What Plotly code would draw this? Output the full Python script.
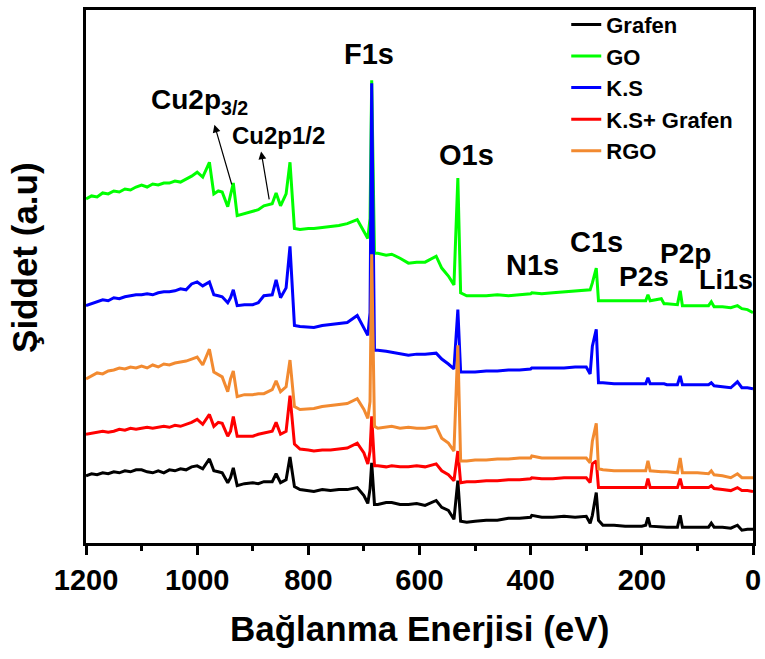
import plotly.graph_objects as go

# Binding energy keypoints (eV)
energy = [1200, 1190, 1180, 1170, 1160, 1150, 1140, 1130, 1120, 1110,
          1100, 1090, 1080, 1070, 1060, 1050, 1040, 1030, 1020, 1010,
          1000, 990, 978, 970, 962, 955, 945, 940, 935, 928,
          915, 900, 890, 880, 865, 858, 850, 840, 833, 825,
          815, 800, 790, 775, 760, 745, 730, 712, 700, 693,
          689, 686, 681, 675, 660, 650, 635, 620, 605, 590,
          570, 560, 548, 538, 531, 526, 515, 500, 480, 460,
          440, 420, 400, 398, 380, 360, 340, 320, 300, 293,
          289, 282, 278, 270, 250, 230, 200, 193, 189, 185,
          165, 160, 155, 136, 131, 127, 100, 80, 75, 70,
          55, 40, 28, 20, 10, 0]

grafen = [68, 70, 69, 71, 70, 72, 71, 73, 72, 74,
          74, 72, 71, 73, 71, 74, 73, 75, 74, 77,
          78, 75, 85, 73, 72, 71, 61, 66, 76, 58,
          60, 61, 60, 62, 62, 70, 61, 64, 87, 57,
          54, 53, 52, 54, 53, 54, 54, 56, 48, 40,
          55, 81, 39, 39, 41, 41, 39, 39, 40, 38,
          43, 36, 33, 24, 63, 22, 21, 22, 23, 23,
          25, 25, 26, 28, 26, 26, 27, 26, 27, 20,
          28, 51, 23, 18, 18, 17, 17, 18, 26, 17,
          16, 16, 16, 16, 28, 16, 16, 16, 20, 16,
          16, 15, 18, 13, 14, 14]

go_vals = [348, 351, 350, 354, 353, 356, 355, 358, 357, 360,
           362, 360, 363, 362, 364, 364, 366, 365, 368, 371,
           375, 370, 385, 353, 356, 355, 340, 353, 364, 331,
           333, 335, 337, 341, 343, 354, 341, 353, 385, 318,
           317, 318, 318, 319, 320, 321, 323, 327, 315, 308,
           328, 468, 293, 293, 291, 292, 288, 283, 284, 284,
           290, 278, 270, 261, 369, 253, 250, 250, 250, 251,
           250, 251, 252, 253, 252, 253, 254, 255, 256, 256,
           263, 278, 245, 245, 245, 245, 245, 245, 251, 245,
           247, 242, 242, 241, 255, 240, 240, 240, 244, 239,
           239, 238, 240, 237, 236, 233]

ks = [240, 242, 244, 246, 245, 248, 247, 249, 250, 251,
      251, 252, 251, 253, 254, 254, 255, 257, 256, 262,
      264, 260, 264, 251, 250, 249, 243, 248, 256, 240,
      241, 241, 243, 250, 251, 266, 248, 258, 300, 220,
      219, 218, 218, 220, 221, 222, 223, 230, 218, 210,
      233, 465, 195, 195, 194, 193, 191, 190, 191, 191,
      192, 186, 181, 176, 236, 173, 173, 173, 174, 174,
      175, 175, 176, 177, 177, 177, 177, 178, 178, 171,
      199, 216, 162, 162, 161, 161, 161, 161, 167, 161,
      161, 161, 160, 160, 169, 160, 160, 160, 162, 159,
      158, 157, 163, 157, 157, 156]

ks_grafen = [110, 111, 112, 113, 112, 113, 115, 114, 116, 115,
             116, 117, 116, 117, 118, 117, 119, 118, 120, 122,
             125, 120, 130, 118, 122, 121, 108, 113, 128, 108,
             108, 108, 110, 111, 113, 122, 110, 113, 149, 100,
             95, 94, 93, 94, 94, 95, 96, 101, 91, 80,
             93, 128, 78, 78, 77, 78, 77, 77, 78, 77,
             80, 73, 69, 63, 93, 61, 62, 62, 63, 63,
             64, 64, 65, 66, 65, 65, 66, 66, 66, 61,
             80, 83, 56, 56, 56, 56, 56, 56, 65, 56,
             56, 56, 56, 56, 65, 56, 56, 56, 58, 55,
             54, 53, 56, 53, 53, 52]

rgo = [166, 169, 172, 171, 174, 175, 177, 176, 178, 177,
       179, 177, 180, 178, 181, 180, 182, 183, 184, 186,
       188, 180, 196, 173, 170, 168, 153, 166, 174, 148,
       150, 150, 151, 151, 155, 164, 153, 158, 185, 138,
       135, 136, 136, 138, 139, 140, 141, 146, 135, 126,
       143, 292, 118, 116, 117, 118, 116, 117, 116, 116,
       118, 106, 101, 93, 200, 83, 83, 84, 84, 85,
       85, 86, 86, 88, 86, 86, 86, 86, 86, 81,
       103, 121, 75, 74, 73, 73, 73, 73, 83, 73,
       72, 72, 72, 71, 86, 71, 71, 70, 73, 69,
       68, 66, 70, 66, 66, 66]

series_names = ["Grafen", "GO", "K.S", "K.S+ Grafen", "RGO"]
series_values = [grafen, go_vals, ks, ks_grafen, rgo]
series_colors = ["#000000", "#00ff00", "#0000ff", "#ff0000", "#f28a30"]

x_ticks = [1200, 1000, 800, 600, 400, 200, 0]
x_minor = [1100, 900, 700, 500, 300, 100]

# Peak labels: (text, energy, intensity, size)
peak_labels = [
    ("F1s", 690, 495, 29),
    ("O1s", 515, 392, 29),
    ("Cu2p<sub>3/2</sub>", 995, 446, 28),
    ("Cu2p1/2", 854, 412, 24),
    ("N1s", 396, 281, 29),
    ("C1s", 282, 304, 29),
    ("P2s", 197, 270, 28),
    ("P2p", 122, 293, 28),
    ("Li1s", 48, 266, 27),
]
# Arrows: (head energy, head intensity, tail energy, tail intensity)
arrows = [(969, 423, 937, 361), (885, 396, 870, 346)]

FONT = "Liberation Sans, Arial, Helvetica, sans-serif"

fig = go.Figure()
for name, vals, col in zip(series_names, series_values, series_colors):
    fig.add_trace(go.Scatter(x=energy, y=vals, mode="lines", name=name,
                             line=dict(color=col, width=3)))

annotations = []
for text, e, inten, size in peak_labels:
    annotations.append(dict(x=e, y=inten, xref="x", yref="y", text=text,
                            showarrow=False, xanchor="center", yanchor="middle",
                            font=dict(family=FONT, size=size, color="black", weight="bold")))
for he, hi, te, ti in arrows:
    annotations.append(dict(x=he, y=hi, xref="x", yref="y", ax=te, ay=ti,
                            axref="x", ayref="y", text="", showarrow=True,
                            arrowhead=2, arrowsize=1.3, arrowwidth=1.2, arrowcolor="black"))
annotations.append(dict(x=0.5, y=-0.16, xref="paper", yref="paper",
                        xanchor="center", yanchor="middle",
                        text="Bağlanma Enerjisi (eV)", showarrow=False,
                        font=dict(family=FONT, size=35, color="black", weight="bold")))
annotations.append(dict(x=-0.092, y=0.536, xref="paper", yref="paper",
                        xanchor="center", yanchor="middle",
                        text="Şiddet (a.u)", showarrow=False, textangle=-90,
                        font=dict(family=FONT, size=35, color="black", weight="bold")))

fig.update_layout(
    width=765, height=659,
    margin=dict(l=86, r=10, t=4, b=116),
    paper_bgcolor="white", plot_bgcolor="white",
    font=dict(family=FONT, color="black"),
    showlegend=True,
    legend=dict(x=0.72, y=1.012, xanchor="left", yanchor="top",
                bgcolor="rgba(0,0,0,0)",
                font=dict(family=FONT, size=22, color="black", weight="bold"),
                tracegroupgap=0),
    annotations=annotations,
)
fig.update_xaxes(range=[1200, 0], tickvals=x_ticks, ticktext=[str(t) for t in x_ticks],
                 ticks="outside", ticklen=9, tickwidth=3, tickcolor="black",
                 minor=dict(tickvals=x_minor, ticks="outside",
                            ticklen=5, tickwidth=3, tickcolor="black"),
                 showline=True, linewidth=3, linecolor="black", mirror=True,
                 showgrid=False, zeroline=False,
                 tickfont=dict(family=FONT, size=29, color="black", weight="bold"))
fig.update_yaxes(range=[0, 539], showticklabels=False, ticks="",
                 showline=True, linewidth=3, linecolor="black", mirror=True,
                 showgrid=False, zeroline=False)

fig.write_html("out.html")
